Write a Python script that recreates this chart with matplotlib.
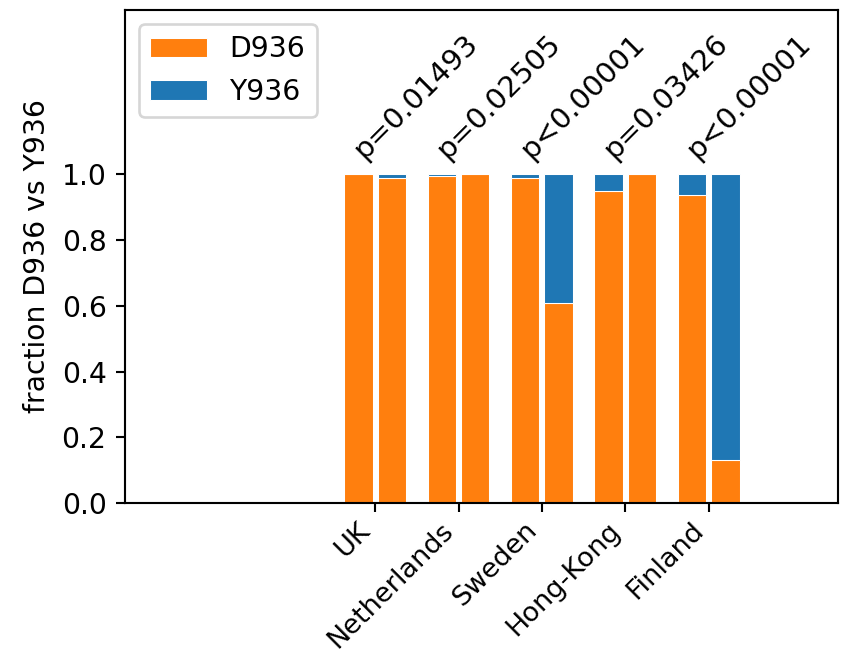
import numpy as np
from matplotlib import pyplot as plt

# Data.
countries = ['UK', 'Netherlands', 'Sweden', 'Hong-Kong', 'Finland']
d936_first = [1.0, 0.994, 0.988, 0.95, 0.936]
d936_second = [0.988, 1.0, 0.61, 1.0, 0.131]
p_labels = ['p=0.01493', 'p=0.02505', 'p<0.00001', 'p=0.03426', 'p<0.00001']

y936_first = [1 - v for v in d936_first]
y936_second = [1 - v for v in d936_second]

plt.rcParams['font.size'] = 10.7

dpi = 190
fig = plt.figure(figsize=(853 / dpi, 656 / dpi), dpi=dpi)
ax = fig.add_axes([125 / 853, 1 - 503 / 656, (838 - 125) / 853, (503 - 10) / 656])

x = np.arange(len(countries)) + 3
w = 0.34
off = 0.2

kw = dict(edgecolor='white', linewidth=0.4)
ax.bar(x - off, d936_first, w, color='tab:orange', label='D936', **kw)
ax.bar(x - off, y936_first, w, bottom=d936_first, color='tab:blue', label='Y936', **kw)
ax.bar(x + off, d936_second, w, color='tab:orange', **kw)
ax.bar(x + off, y936_second, w, bottom=d936_second, color='tab:blue', **kw)

for xi, p in zip(x, p_labels):
    ax.text(xi - 0.32, 1.03, p, rotation=45, ha='left', va='bottom', fontsize=11)

ax.set_xlim(0, 8.55)
ax.set_ylim(0, 1.5)
ax.set_yticks([0.0, 0.2, 0.4, 0.6, 0.8, 1.0])
ax.set_xticks(x)
ax.set_xticklabels(countries, rotation=45, ha='right', fontsize=10.3)
ax.tick_params(axis='x', pad=2)
ax.set_ylabel('fraction D936 vs Y936')
ax.legend(loc='upper left')

fig.savefig('out.png', dpi=dpi)
